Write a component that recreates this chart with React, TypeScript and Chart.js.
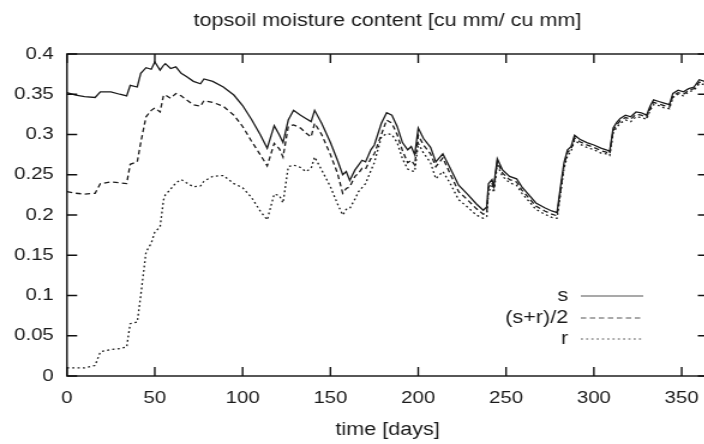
import React, { useEffect, useRef } from "react";
import { Chart, registerables } from "chart.js";

Chart.register(...registerables);

const days = [
  0, 5, 10, 16, 19, 25, 30, 34, 36, 40, 42, 45, 48, 50, 53, 55, 56, 59, 62, 65, 68, 72, 76, 78, 83, 89, 95, 100,
  105, 110, 114, 118, 121, 123, 126, 129, 133, 136, 139, 141, 145, 150, 154, 157, 159, 161, 164, 166, 168, 170,
  173, 175, 179, 182, 185, 188, 191, 194, 196, 198, 200, 203, 207, 210, 214, 218, 223, 228, 233, 237, 239, 240,
  242, 243, 245, 248, 252, 256, 259, 263, 267, 272, 276, 279, 281, 283, 285, 287, 289, 292, 296, 300, 304, 307,
  309, 311, 313, 315, 318, 321, 324, 327, 330, 332, 334, 337, 340, 343, 345, 348, 351, 354, 357, 360, 363, 365,
];

const sValues = [
  0.352, 0.349, 0.347, 0.346, 0.353, 0.353, 0.35, 0.348, 0.361, 0.359, 0.376, 0.383, 0.381, 0.39, 0.38, 0.386,
  0.388, 0.382, 0.384, 0.376, 0.372, 0.366, 0.363, 0.369, 0.366, 0.359, 0.349, 0.336, 0.319, 0.3, 0.283, 0.311,
  0.299, 0.29, 0.318, 0.33, 0.324, 0.32, 0.316, 0.33, 0.314, 0.29, 0.268, 0.25, 0.254, 0.243, 0.256, 0.262, 0.268,
  0.266, 0.281, 0.287, 0.314, 0.327, 0.324, 0.31, 0.29, 0.281, 0.285, 0.275, 0.308, 0.295, 0.284, 0.266, 0.276,
  0.259, 0.237, 0.226, 0.214, 0.206, 0.21, 0.239, 0.244, 0.236, 0.27, 0.256, 0.248, 0.245, 0.235, 0.225, 0.215,
  0.209, 0.205, 0.203, 0.235, 0.265, 0.281, 0.285, 0.299, 0.294, 0.29, 0.287, 0.283, 0.281, 0.279, 0.308, 0.315,
  0.32, 0.324, 0.322, 0.328, 0.327, 0.324, 0.335, 0.343, 0.341, 0.339, 0.337, 0.351, 0.355, 0.353, 0.357, 0.359,
  0.368, 0.366, 0.367,
];

const midValues = [
  0.229, 0.227, 0.226, 0.227, 0.239, 0.241, 0.24, 0.239, 0.263, 0.266, 0.29, 0.322, 0.33, 0.333, 0.328, 0.349,
  0.349, 0.345, 0.351, 0.348, 0.343, 0.337, 0.335, 0.342, 0.34, 0.335, 0.324, 0.31, 0.292, 0.275, 0.261, 0.289,
  0.282, 0.272, 0.31, 0.312, 0.308, 0.302, 0.297, 0.314, 0.3, 0.275, 0.252, 0.227, 0.233, 0.235, 0.248, 0.252,
  0.258, 0.257, 0.27, 0.276, 0.3, 0.318, 0.314, 0.3, 0.28, 0.265, 0.268, 0.262, 0.299, 0.287, 0.276, 0.26, 0.271,
  0.252, 0.229, 0.219, 0.208, 0.201, 0.203, 0.234, 0.24, 0.232, 0.266, 0.252, 0.244, 0.241, 0.231, 0.221, 0.211,
  0.205, 0.201, 0.199, 0.23, 0.262, 0.278, 0.282, 0.296, 0.291, 0.287, 0.284, 0.28, 0.278, 0.276, 0.305, 0.312,
  0.317, 0.321, 0.319, 0.325, 0.324, 0.321, 0.332, 0.34, 0.338, 0.336, 0.334, 0.348, 0.352, 0.35, 0.355, 0.357,
  0.365, 0.364, 0.365,
];

const rValues = [
  0.01, 0.01, 0.01, 0.013, 0.03, 0.033, 0.034, 0.036, 0.065, 0.067, 0.1, 0.154, 0.165, 0.179, 0.185, 0.219, 0.225,
  0.232, 0.24, 0.244, 0.24, 0.235, 0.236, 0.242, 0.248, 0.249, 0.239, 0.234, 0.222, 0.205, 0.194, 0.226, 0.224,
  0.215, 0.26, 0.262, 0.259, 0.254, 0.258, 0.272, 0.256, 0.235, 0.214, 0.2, 0.207, 0.208, 0.22, 0.229, 0.234,
  0.239, 0.255, 0.265, 0.297, 0.301, 0.3, 0.29, 0.27, 0.257, 0.255, 0.254, 0.289, 0.277, 0.265, 0.245, 0.254,
  0.24, 0.219, 0.21, 0.2, 0.196, 0.198, 0.229, 0.236, 0.228, 0.262, 0.248, 0.24, 0.237, 0.227, 0.217, 0.207,
  0.201, 0.197, 0.196, 0.226, 0.258, 0.274, 0.279, 0.293, 0.288, 0.284, 0.281, 0.277, 0.276, 0.274, 0.302, 0.309,
  0.314, 0.318, 0.316, 0.322, 0.321, 0.319, 0.33, 0.337, 0.336, 0.333, 0.332, 0.346, 0.35, 0.348, 0.353, 0.355,
  0.363, 0.362, 0.363,
];

const seriesLabels = ["s", "(s+r)/2", "r"];
const xTickValues = [0, 50, 100, 150, 200, 250, 300, 350];
const yTickValues = [0, 0.05, 0.1, 0.15, 0.2, 0.25, 0.3, 0.35, 0.4];
const yTickLabels = ["0", "0.05", "0.1", "0.15", "0.2", "0.25", "0.3", "0.35", "0.4"];
const titleText = "topsoil moisture content [cu mm/ cu mm]";
const xTitleText = "time [days]";

const SX = 1.2;
const CW = 600;
const CH = 444;
const FONT = "'Liberation Sans', Arial, Helvetica, sans-serif";
const INK = "#1a1a1a";
const dashes = [[], [4.5, 3], [1.8, 2.6]];

const framePlugin = {
  id: "gnuplotFrame",
  afterDraw(chart: any) {
    const { ctx, chartArea: a, scales } = chart;
    ctx.save();
    ctx.strokeStyle = "#111";
    ctx.lineWidth = 1.4;
    ctx.setLineDash([]);
    ctx.strokeRect(a.left, a.top, a.right - a.left, a.bottom - a.top);
    ctx.beginPath();
    const tx = 9;
    const ty = 8.5;
    for (const v of xTickValues) {
      const x = scales.x.getPixelForValue(v);
      ctx.moveTo(x, a.bottom);
      ctx.lineTo(x, a.bottom - tx);
      ctx.moveTo(x, a.top);
      ctx.lineTo(x, a.top + tx);
    }
    for (const v of yTickValues) {
      const y = scales.y.getPixelForValue(v);
      ctx.moveTo(a.left, y);
      ctx.lineTo(a.left + ty, y);
      ctx.moveTo(a.right, y);
      ctx.lineTo(a.right - ty, y);
    }
    ctx.stroke();

    // legend (gnuplot style: label right-aligned, sample to the right)
    const lineRight = a.right - 54;
    const lineLeft = lineRight - 52;
    const textRight = lineLeft - 10.5;
    const rows = [a.bottom - 80, a.bottom - 58, a.bottom - 37];
    ctx.font = `18px ${FONT}`;
    ctx.fillStyle = INK;
    ctx.textAlign = "right";
    ctx.textBaseline = "middle";
    chart.data.datasets.forEach((ds: any, i: number) => {
      const y = rows[i];
      ctx.fillText(ds.label, textRight, y);
      ctx.beginPath();
      ctx.strokeStyle = "#555";
      ctx.lineWidth = 1.2;
      ctx.setLineDash(ds.borderDash || []);
      ctx.moveTo(lineLeft, y);
      ctx.lineTo(lineRight, y);
      ctx.stroke();
    });
    ctx.restore();
  },
};

export default function App() {
  const ref = useRef<HTMLCanvasElement>(null);
  useEffect(() => {
    const seriesValues = [sValues, midValues, rValues];
    const chart = new Chart(ref.current as HTMLCanvasElement, {
      type: "line",
      data: {
        datasets: seriesValues.map((vals, i) => ({
          label: seriesLabels[i],
          data: days.map((d, j) => ({ x: d, y: vals[j] })),
          borderColor: INK,
          borderWidth: 1.3,
          borderDash: dashes[i],
          pointRadius: 0,
          tension: 0,
          fill: false,
        })),
      },
      options: {
        animation: false,
        responsive: false,
        devicePixelRatio: 1,
        layout: { padding: { top: 0, left: 0, right: 10, bottom: 0 } },
        plugins: {
          legend: { display: false },
          tooltip: { enabled: false },
          title: {
            display: true,
            text: titleText,
            fullSize: false,
            color: INK,
            font: { family: FONT, size: 18, weight: "normal", lineHeight: 1.2 },
            padding: { top: 10, bottom: 22.4 },
          },
        },
        scales: {
          x: {
            type: "linear",
            min: 0,
            max: 365,
            grid: { display: false, drawTicks: false },
            border: { display: false },
            afterBuildTicks: (s: any) => {
              s.ticks = xTickValues.map((v) => ({ value: v }));
            },
            afterFit: (s: any) => {
              s.height = 68;
            },
            ticks: {
              color: INK,
              padding: 12,
              maxRotation: 0,
              font: { family: FONT, size: 17 },
              callback: (v: any) => String(v),
            },
            title: {
              display: true,
              text: xTitleText,
              color: INK,
              font: { family: FONT, size: 18, lineHeight: 1.2 },
              padding: { top: 0, bottom: 3.5 },
            },
          },
          y: {
            type: "linear",
            min: 0,
            max: 0.4,
            grid: { display: false, drawTicks: false },
            border: { display: false },
            afterBuildTicks: (s: any) => {
              s.ticks = yTickValues.map((v) => ({ value: v }));
            },
            afterFit: (s: any) => {
              s.width = 55.8;
            },
            ticks: {
              color: INK,
              padding: 11,
              font: { family: FONT, size: 17 },
              callback: (_v: any, i: number) => yTickLabels[i],
            },
          },
        },
      },
      plugins: [framePlugin],
    } as any);
    return () => chart.destroy();
  }, []);

  return (
    <div
      style={{
        position: "fixed",
        left: 0,
        top: 0,
        width: 704,
        height: 444,
        overflow: "hidden",
        background: "#fff",
      }}
    >
      <canvas
        ref={ref}
        width={CW}
        height={CH}
        style={{
          display: "block",
          width: CW,
          height: CH,
          transform: `scaleX(${SX})`,
          transformOrigin: "0 0",
        }}
      />
    </div>
  );
}
